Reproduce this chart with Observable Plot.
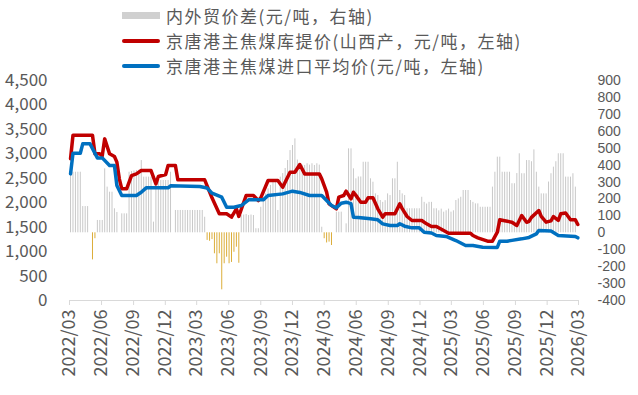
<!DOCTYPE html>
<html><head><meta charset="utf-8">
<script src="https://cdn.jsdelivr.net/npm/d3@7"></script>
<script src="https://cdn.jsdelivr.net/npm/@observablehq/plot@0.6"></script>
<style>
body{margin:0;background:#fff;font-family:"Noto Sans CJK SC",sans-serif;}
#wrap{position:relative;width:638px;height:395px;overflow:hidden;}
#legend{position:relative;width:638px;height:72px;}
.row{position:absolute;left:0;height:24px;width:638px;}
.sw{position:absolute;left:122px;width:38px;}
.txt{position:absolute;left:166px;top:0;line-height:24px;font-size:17px;letter-spacing:1.5px;color:#595959;white-space:nowrap;}
</style></head>
<body><div id="wrap"><div id="legend"></div><div id="chart"></div></div>
<script>
// ---- data (weekly, starting 2022-03-04) ----
const seriesNames = ["内外贸价差(元/吨，右轴)", "京唐港主焦煤库提价(山西产，元/吨，左轴)", "京唐港主焦煤进口平均价(元/吨，左轴)"];
const barValues = [
 358,358,358,358,358,155,155,155,0,-160,-35,73,73,73,378,270,240,240,142,120,0,
 112,112,112,358,362,365,368,370,427,329,329,329,329,63,309,309,309,309,309,309,358,0,
 132,132,132,132,132,132,132,132,132,132,132,132,92,
 -45,-50,-40,-124,-183,-124,-337,-183,-144,-183,-175,-115,-85,-180,
 102,105,108,102,105,102,24,24,151,200,230,260,280,300,300,132,329,350,380,427,486,516,555,430,
 408,400,398,408,400,408,398,408,400,33,-35,-60,-55,-75,0,122,122,122,0,53,496,496,378,319,330,330,
 417,417,417,319,299,230,220,191,180,190,230,220,319,319,417,250,230,220,142,142,142,142,142,142,
 210,180,170,180,180,142,142,130,140,122,130,140,122,130,191,200,210,250,250,250,191,180,171,171,151,
 151,151,151,151,270,358,447,447,358,358,358,358,290,290,350,467,349,349,427,427,420,490,358,270,
 230,230,230,300,349,388,420,467,467,467,329,329,329,349,270
];
const redWeeks  = [0,1,9,10,12,13,14,16,18,19,20,21,23,25,27,29,33,35,36,39,40,43,44,55,58,61,64,66,68,69,72,75,77,78,81,85,87,90,92,94,96,102,103,105,106,109,110,112,113,115,116,117,119,121,122,124,126,128,129,133,135,136,138,140,144,146,148,150,153,155,164,165,167,171,173,175,176,178,181,183,185,187,188,189,192,193,195,197,198,200,201,203,205,207,208];
const redValues = [2900,3380,3380,3000,3000,2960,3306,3000,2945,2830,2488,2284,2284,2556,2590,2658,2658,2386,2536,2577,2761,2761,2468,2468,2100,1773,1773,1705,1875,1720,2147,2147,2045,2100,2454,2454,2317,2624,2624,2781,2590,2590,2488,2215,1977,1875,2114,2147,2236,2080,2215,2150,2011,2011,2100,2100,1875,1705,1773,1773,1977,1880,1718,1636,1636,1568,1513,1513,1432,1377,1377,1329,1280,1213,1213,1397,1650,1630,1602,1534,1738,1600,1620,1700,1841,1720,1602,1630,1718,1640,1773,1790,1650,1650,1554];
const blueWeeks = [0,1,4,5,8,11,13,16,18,19,21,27,29,31,40,41,53,56,58,62,64,67,70,73,79,81,87,91,94,98,103,105,107,109,111,113,115,116,118,123,126,128,131,134,135,137,140,143,145,148,150,154,158,162,165,169,175,176,179,181,185,188,191,192,197,200,207,208];
const blueValues = [2590,3012,3012,3204,3204,2917,2917,2761,2761,2352,2147,2147,2215,2304,2304,2345,2331,2300,2195,2114,1909,1909,1943,2059,2059,2147,2181,2236,2210,2147,2147,2045,1943,1895,1990,2011,1980,1705,1700,1670,1650,1568,1534,1534,1570,1520,1486,1486,1397,1380,1329,1310,1227,1125,1125,1091,1085,1213,1213,1230,1261,1290,1363,1432,1420,1329,1310,1282];
const xTickLabels = ["2022/03","2022/06","2022/09","2022/12","2023/03","2023/06","2023/09","2023/12","2024/03","2024/06","2024/09","2024/12","2025/03","2025/06","2025/09","2025/12","2026/03"];
const leftTicks = [0,500,1000,1500,2000,2500,3000,3500,4000,4500];
const rightTicks = [-400,-300,-200,-100,0,100,200,300,400,500,600,700,800,900];

// ---- helpers ----
const start = Date.UTC(2022, 2, 4);
const weekDate = w => new Date(start + w * 7 * 864e5);
const toLeft = r => (r + 400) * 4500 / 1300;
const fromLeft = v => Math.round(v * 1300 / 4500 - 400);
const bars = barValues.map((v, i) => ({date: weekDate(i), v})).filter(d => d.v !== 0);
const red = redWeeks.map((w, i) => ({date: weekDate(w), v: redValues[i]}));
const blue = blueWeeks.map((w, i) => ({date: weekDate(w), v: blueValues[i]}));
const tickDates = xTickLabels.map(s => { const [y, m] = s.split("/"); return new Date(Date.UTC(+y, +m - 1, 1)); });
const labelOf = new Map(tickDates.map((d, i) => [+d, xTickLabels[i]]));

// ---- legend ----
const legend = document.getElementById("legend");
const rows = [
  {top: 4, sw: "top:8px;height:7px;background:#d0d0d0;"},
  {top: 29, sw: "top:10px;height:4px;border-radius:2px;background:#c00000;"},
  {top: 54, sw: "top:10px;height:4px;border-radius:2px;background:#0070c0;"}
];
rows.forEach((r, i) => {
  const row = document.createElement("div");
  row.className = "row"; row.style.top = r.top + "px";
  row.innerHTML = `<div class="sw" style="${r.sw}"></div><div class="txt">${seriesNames[i]}</div>`;
  legend.appendChild(row);
});

// ---- chart ----
const chart = Plot.plot({
  width: 638, height: 323,
  marginTop: 8, marginBottom: 95, marginLeft: 69, marginRight: 60,
  style: {fontFamily: "'Noto Sans CJK SC', sans-serif", color: "#595959", background: "transparent", overflow: "visible"},
  x: {type: "utc", domain: [tickDates[0], tickDates[tickDates.length - 1]]},
  y: {domain: [0, 4500]},
  marks: [
    Plot.ruleX(bars, {x: "date", y1: toLeft(0), y2: d => toLeft(d.v), stroke: d => d.v >= 0 ? "#c8c8c8" : "#dcae3a", strokeWidth: 1}),
    Plot.ruleY([0], {stroke: "#d9d9d9", strokeWidth: 1}),
    Plot.line(red, {x: "date", y: "v", stroke: "#c00000", strokeWidth: 3.5, strokeLinejoin: "round"}),
    Plot.line(blue, {x: "date", y: "v", stroke: "#0070c0", strokeWidth: 3.5, strokeLinejoin: "round"}),
    Plot.axisX({ticks: tickDates, tickFormat: d => labelOf.get(+d), tickRotate: -90, tickSize: 5, tickPadding: 4, stroke: "#d9d9d9", fill: "#595959", fontSize: 18, label: null}),
    Plot.axisY({ticks: leftTicks, tickFormat: d3.format(","), anchor: "left", tickSize: 0, tickPadding: 22, fontSize: 17, fill: "#595959", label: null}),
    Plot.axisY(rightTicks.map(toLeft), {anchor: "right", tickSize: 0, tickPadding: 19, fontSize: 14, fontFamily: "'Liberation Sans', Arial, sans-serif", fill: "#595959", tickFormat: fromLeft, label: null})
  ]
});
document.getElementById("chart").appendChild(chart);
</script></body></html>
